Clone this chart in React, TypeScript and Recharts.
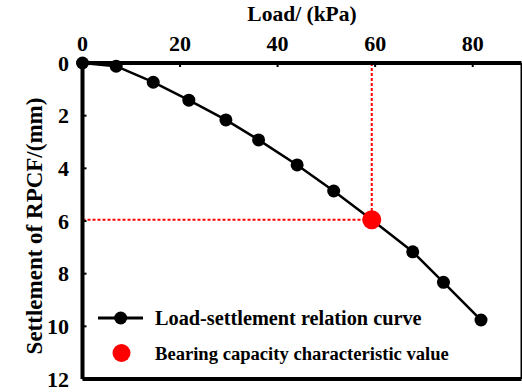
import React from 'react';
import {
  LineChart,
  Line,
  XAxis,
  YAxis,
  ReferenceLine,
  Legend,
} from 'recharts';

// Plate load test: applied load vs. settlement
const loads = [0, 6.9, 14.5, 21.8, 29.4, 36.1, 44.0, 51.5, 59.3, 67.7, 74.0, 81.7];
const settlements = [0, 0.12, 0.73, 1.41, 2.16, 2.92, 3.87, 4.86, 5.95, 7.17, 8.33, 9.76];

// Bearing capacity characteristic value (load, settlement)
const bearingLoad = 59.3;
const bearingSettlement = 5.95;

const xTicks = [0, 20, 40, 60, 80];
const yTicks = [0, 2, 4, 6, 8, 10, 12];
const xDomain = [0, 90];
const yDomain = [0, 12];

const xTitle = 'Load/ (kPa)';
const yTitle = 'Settlement of RPCF/(mm)';
const legendLabels = ['Load-settlement relation curve', 'Bearing capacity characteristic value'];

const rows = loads.map((load, i) => ({ load, settlement: settlements[i] }));

const FONT = '"Liberation Serif", "Times New Roman", serif';
const serifBold = (size: number) => ({ fontFamily: FONT, fontWeight: 'bold' as const, fontSize: size });
const tickStyle = { fill: '#000', style: serifBold(22) };

const XTitle = (props: any) => {
  const vb = props.viewBox || {};
  return (
    <text
      x={vb.x + vb.width / 2}
      y={vb.y - 12.5}
      textAnchor="middle"
      fill="#000"
      style={serifBold(21.5)}
    >
      {xTitle}
    </text>
  );
};

const YTitle = (props: any) => {
  const vb = props.viewBox || {};
  const x = vb.x - 1;
  const y = vb.y + vb.height / 2 + 5;
  return (
    <text
      x={x}
      y={y}
      transform={`rotate(-90 ${x} ${y})`}
      textAnchor="middle"
      fill="#000"
      style={serifBold(23)}
    >
      {yTitle}
    </text>
  );
};

// Black markers for the curve; the characteristic value point is drawn red and larger
const CurveDot = (props: any) => {
  const { cx, cy, payload, index } = props;
  if (cx == null || cy == null) return <g key={`d-${index}`} />;
  const isBearing = payload && payload.load === bearingLoad && payload.settlement === bearingSettlement;
  return (
    <circle
      key={`d-${index}`}
      cx={cx}
      cy={cy}
      r={isBearing ? 9.5 : 6.5}
      fill={isBearing ? '#ff0000' : '#000'}
    />
  );
};

const LegendBox = () => (
  <svg width={400} height={72} style={{ display: 'block' }}>
    <line x1={8} y1={18} x2={53} y2={18} stroke="#000" strokeWidth={3} />
    <circle cx={30.7} cy={18} r={6.5} fill="#000" />
    <text x={65} y={25} fill="#000" style={serifBold(20.3)}>
      {legendLabels[0]}
    </text>
    <circle cx={31.5} cy={53} r={9} fill="#ff0000" />
    <text x={65} y={60} fill="#000" style={serifBold(18.6)}>
      {legendLabels[1]}
    </text>
  </svg>
);

export default function App() {
  return (
    <div style={{ position: 'absolute', left: 0, top: 0 }}>
      <LineChart
        width={522}
        height={392}
        data={rows}
        margin={{ top: 33, left: 42.5, right: 0.5, bottom: 13 }}
      >
        <XAxis
          dataKey="load"
          type="number"
          orientation="top"
          domain={xDomain}
          ticks={xTicks}
          height={30}
          tick={tickStyle}
          tickSize={-4}
          tickMargin={16}
          tickLine={{ stroke: '#000', strokeWidth: 2 }}
          axisLine={{ stroke: '#000', strokeWidth: 4 }}
          label={<XTitle />}
        />
        <YAxis
          dataKey="settlement"
          type="number"
          reversed
          domain={yDomain}
          ticks={yTicks}
          width={40}
          tick={tickStyle}
          tickSize={-4}
          tickMargin={17.5}
          tickLine={{ stroke: '#000', strokeWidth: 2 }}
          axisLine={{ stroke: '#000', strokeWidth: 4 }}
          label={<YTitle />}
        />
        <ReferenceLine y={yDomain[1]} stroke="#000" strokeWidth={4} />
        <ReferenceLine x={xDomain[1]} stroke="#000" strokeWidth={2} />
        <ReferenceLine
          segment={[
            { x: 0, y: bearingSettlement },
            { x: bearingLoad, y: bearingSettlement },
          ]}
          stroke="#ff0000"
          strokeWidth={2}
          strokeDasharray="3 2"
        />
        <ReferenceLine
          segment={[
            { x: bearingLoad, y: 0 },
            { x: bearingLoad, y: bearingSettlement },
          ]}
          stroke="#ff0000"
          strokeWidth={2}
          strokeDasharray="3 2"
        />
        <Line
          dataKey="settlement"
          type="linear"
          stroke="#000"
          strokeWidth={2.5}
          dot={CurveDot}
          activeDot={false}
          isAnimationActive={false}
        />
        <Legend
          layout="vertical"
          align="center"
          verticalAlign="middle"
          content={LegendBox}
          wrapperStyle={{ position: 'absolute', left: 90, top: 300, width: 400, height: 72 }}
        />
      </LineChart>
    </div>
  );
}
